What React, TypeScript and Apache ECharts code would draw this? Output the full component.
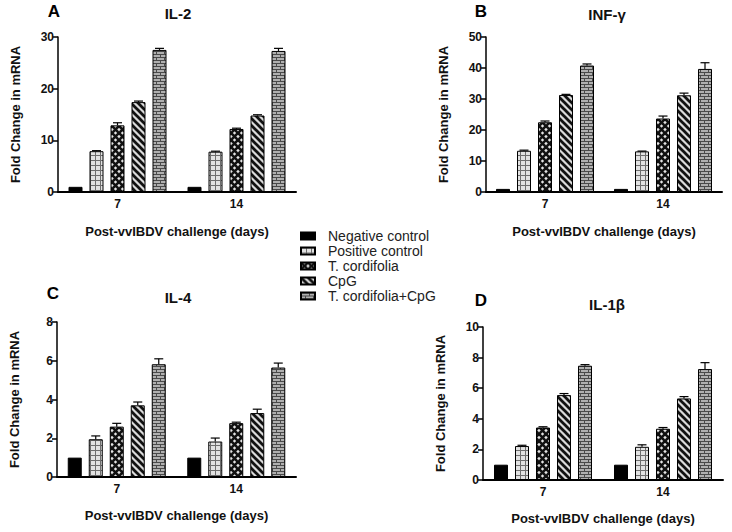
import React, { useEffect, useRef } from "react";
import * as echarts from "echarts";

const categories = ["7", "14"];
const groupNames = ["Negative control", "Positive control", "T. cordifolia", "CpG", "T. cordifolia+CpG"];

// IL-2
const il2Day7 = [1.0, 7.9, 12.9, 17.4, 27.5];
const il2Day14 = [1.0, 7.8, 12.2, 14.8, 27.3];
const il2Err7 = [0, 0.1, 0.5, 0.2, 0.3];
const il2Err14 = [0, 0.1, 0.15, 0.15, 0.5];
// INF-γ
const infDay7 = [1.0, 13.3, 22.5, 31.3, 40.8];
const infDay14 = [1.0, 13.1, 23.7, 31.2, 39.7];
const infErr7 = [0, 0.2, 0.4, 0.2, 0.5];
const infErr14 = [0, 0.1, 0.8, 0.7, 2.0];
// IL-4
const il4Day7 = [1.0, 1.95, 2.6, 3.7, 5.82];
const il4Day14 = [1.0, 1.83, 2.78, 3.3, 5.65];
const il4Err7 = [0, 0.17, 0.17, 0.17, 0.28];
const il4Err14 = [0, 0.18, 0.05, 0.2, 0.23];
// IL-1β
const il1bDay7 = [1.0, 2.22, 3.43, 5.55, 7.47];
const il1bDay14 = [1.0, 2.17, 3.35, 5.33, 7.25];
const il1bErr7 = [0, 0.05, 0.05, 0.1, 0.07];
const il1bErr14 = [0, 0.13, 0.08, 0.12, 0.42];

const panelLetters = ["A", "B", "C", "D"];
const panelTitles = ["IL-2", "INF-γ", "IL-4", "IL-1β"];
const yMax = [30, 50, 8, 10];
const yInterval = [10, 10, 2, 2];

const FONT = '"Liberation Sans", Arial, sans-serif';

function makePattern(kind: string) {
  const c = document.createElement("canvas");
  let w = 7, h = 7;
  if (kind === "grid") { w = 5; h = 5; }
  if (kind === "brick") { w = 8; h = 6; }
  c.width = w; c.height = h;
  const ctx = c.getContext("2d")!;
  if (kind === "grid") {
    ctx.fillStyle = "#e2e2e2"; ctx.fillRect(0, 0, w, h);
    ctx.fillStyle = "#6e6e6e"; ctx.fillRect(0, 0, w, 1); ctx.fillRect(0, 0, 1, h);
  } else if (kind === "cross") {
    ctx.fillStyle = "#e4e4e4"; ctx.fillRect(0, 0, w, h);
    ctx.strokeStyle = "#111"; ctx.lineWidth = 2.6;
    for (const dx of [-w, 0, w]) {
      ctx.beginPath(); ctx.moveTo(dx - 1, -1); ctx.lineTo(dx + w + 1, h + 1); ctx.stroke();
      ctx.beginPath(); ctx.moveTo(dx + w + 1, -1); ctx.lineTo(dx - 1, h + 1); ctx.stroke();
    }
  } else if (kind === "stripe") {
    ctx.fillStyle = "#dadada"; ctx.fillRect(0, 0, w, h);
    ctx.strokeStyle = "#111"; ctx.lineWidth = 2.7;
    for (const dx of [-w, 0, w]) {
      ctx.beginPath(); ctx.moveTo(dx - 1, -1); ctx.lineTo(dx + w + 1, h + 1); ctx.stroke();
    }
  } else if (kind === "brick") {
    ctx.fillStyle = "#b0b0b0"; ctx.fillRect(0, 0, w, h);
    ctx.fillStyle = "#4a4a4a";
    ctx.fillRect(0, 0, w, 1); ctx.fillRect(0, 3, w, 1);
    ctx.fillRect(0, 0, 1, 3); ctx.fillRect(4, 3, 1, 3);
  }
  return { image: c, repeat: "repeat", imageWidth: w, imageHeight: h } as any;
}

export default function App() {
  const ref = useRef<HTMLDivElement>(null);
  useEffect(() => {
    if (!ref.current) return;
    const chart = echarts.init(ref.current, null, { renderer: "svg" });
    const fills: any[] = ["#000", makePattern("grid"), makePattern("cross"), makePattern("stripe"), makePattern("brick")];

    const panels = [
      { d7: il2Day7, d14: il2Day14, e7: il2Err7, e14: il2Err14 },
      { d7: infDay7, d14: infDay14, e7: infErr7, e14: infErr14 },
      { d7: il4Day7, d14: il4Day14, e7: il4Err7, e14: il4Err14 },
      { d7: il1bDay7, d14: il1bDay14, e7: il1bErr7, e14: il1bErr14 },
    ];
    const grids = [
      { left: 58, right: 436, top: 37, bottom: 340 },
      { left: 486, right: 10, top: 37, bottom: 340 },
      { left: 57, right: 436, top: 322, bottom: 55 },
      { left: 483, right: 9, top: 327, bottom: 52 },
    ];
    const xGaps = [33, 33, 32, 32];
    const yGaps = [36, 36, 36, 36];

    const xAxis = grids.map((_, i) => ({
      type: "category",
      gridIndex: i,
      data: categories,
      name: "Post-vvIBDV challenge (days)",
      nameLocation: "middle",
      nameGap: xGaps[i],
      nameTextStyle: { fontFamily: FONT, fontWeight: "bold", fontSize: 13, color: "#111" },
      axisLine: { lineStyle: { color: "#000", width: 2 } },
      axisTick: { alignWithLabel: true, length: 5, lineStyle: { color: "#000", width: 1.5 } },
      axisLabel: { fontFamily: FONT, fontWeight: "bold", fontSize: 12, color: "#111", margin: 6 },
    }));
    const yAxis = grids.map((_, i) => ({
      type: "value",
      gridIndex: i,
      min: 0,
      max: yMax[i],
      interval: yInterval[i],
      name: "Fold Change in mRNA",
      nameLocation: "middle",
      nameGap: yGaps[i],
      nameTextStyle: { fontFamily: FONT, fontWeight: "bold", fontSize: 13, color: "#111" },
      axisLine: { show: true, lineStyle: { color: "#000", width: 1.5 } },
      axisTick: { show: true, length: 5, lineStyle: { color: "#000", width: 1.5 } },
      axisLabel: { fontFamily: FONT, fontWeight: "bold", fontSize: 12, color: "#111", margin: 4 },
      splitLine: { show: false },
    }));

    const series: any[] = [];
    panels.forEach((p, pi) => {
      groupNames.forEach((name, si) => {
        series.push({
          type: "bar",
          name,
          xAxisIndex: pi,
          yAxisIndex: pi,
          data: [p.d7[si], p.d14[si]],
          barWidth: 14,
          barGap: "50%",
          itemStyle: { color: fills[si], borderColor: "#000", borderWidth: 1 },
          emphasis: { disabled: true },
        });
      });
      const errData: number[][] = [];
      groupNames.forEach((_, si) => {
        errData.push([0, si, p.d7[si], p.e7[si]]);
        errData.push([1, si, p.d14[si], p.e14[si]]);
      });
      series.push({
        type: "custom",
        xAxisIndex: pi,
        yAxisIndex: pi,
        data: errData,
        encode: { x: 0, y: 2 },
        silent: true,
        z: 5,
        renderItem: (params: any, api: any) => {
          const cat = api.value(0);
          const s = api.value(1);
          const v = api.value(2);
          const e = api.value(3);
          if (!e || e <= 0) return { type: "group", children: [] };
          const base = api.coord([cat, v]);
          const top = api.coord([cat, v + e]);
          const x = base[0] + (s - 2) * 21;
          const st = { stroke: "#000", lineWidth: 1.2 };
          return {
            type: "group",
            children: [
              { type: "line", shape: { x1: x, y1: base[1], x2: x, y2: top[1] }, style: st },
              { type: "line", shape: { x1: x - 4.5, y1: top[1], x2: x + 4.5, y2: top[1] }, style: st },
            ],
          };
        },
      });
    });

    const letterPos = [[54, 11], [481, 11], [53, 293], [481, 300]];
    const titlePos = [[178, 13], [607, 14], [178, 297], [607, 304]];
    const graphic: any[] = [];
    panelLetters.forEach((l, i) => {
      graphic.push({
        type: "text", x: letterPos[i][0], y: letterPos[i][1],
        style: { text: l, font: `bold 17px ${FONT}`, fill: "#000", textAlign: "center", textVerticalAlign: "middle" },
      });
      graphic.push({
        type: "text", x: titlePos[i][0], y: titlePos[i][1],
        style: { text: panelTitles[i], font: `bold 15px ${FONT}`, fill: "#111", textAlign: "center", textVerticalAlign: "middle" },
      });
    });

    chart.setOption({
      animation: false,
      backgroundColor: "#fff",
      grid: grids,
      xAxis,
      yAxis,
      series,
      graphic,
      legend: {
        data: groupNames,
        orient: "vertical",
        left: 300,
        top: 229,
        padding: 0,
        icon: "rect",
        itemWidth: 14,
        itemHeight: 7,
        itemGap: 1,
        selectedMode: false,
        textStyle: { fontFamily: FONT, fontSize: 14, color: "#222", lineHeight: 13, padding: [0, 0, 0, 8] },
      },
    });
    return () => chart.dispose();
  }, []);
  return <div ref={ref} style={{ position: "absolute", left: 0, top: 0, width: 732, height: 532 }} />;
}
